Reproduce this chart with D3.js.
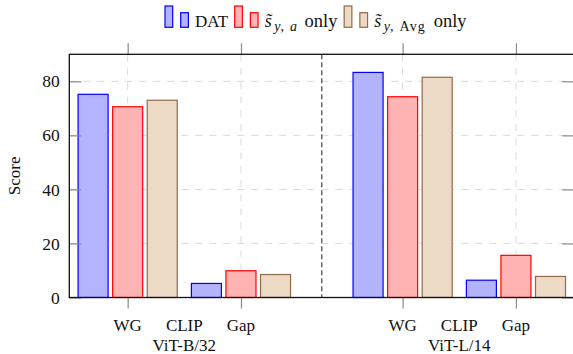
<!DOCTYPE html>
<html>
<head>
<meta charset="utf-8">
<script src="https://cdn.jsdelivr.net/npm/d3@7"></script>
<style>
  body { margin: 0; background: #fff; }
  svg text { font-family: "Liberation Serif", "Times New Roman", Times, serif !important; }
</style>
</head>
<body>
<div id="chart"></div>
<script>
// data
var panels = ["ViT-B/32", "ViT-L/14"];
var tickLabels = ["WG", "CLIP", "Gap"];
var barSlots = ["WG", "Gap"];            // bar groups in each panel
var datScores = [75.2, 5.2, 83.3, 6.4];   // DAT
var saScores = [70.6, 9.9, 74.3, 15.6];   // s~_{y,a} only
var savgScores = [73.0, 8.5, 81.5, 7.8];  // s~_{y,Avg} only
var yTicks = [0, 20, 40, 60, 80];

var series = [
    {name: "DAT", values: datScores, fill: "#b3b3ff", stroke: "#0000ff"},
    {name: "sa", values: saScores, fill: "#ffb3b3", stroke: "#ff0000"},
    {name: "savg", values: savgScores, fill: "#ecd9c6", stroke: "#8f6b48"}
];

var W = 573, H = 354;
var serif = "'Liberation Serif', 'Times New Roman', serif";
var margin = {top: 54.3, left: 69.3},
    width = 505, height = 243.2;

var panelStep = 4.853;   // distance between panels in slot units
var pad = 1.03;
var slotOf = function(label) { return tickLabels.indexOf(label); };
var pos = function(panel, slot) { return panel * panelStep + slot; };

var x = d3.scaleLinear()
    .domain([-pad, pos(panels.length - 1, tickLabels.length - 1) + pad])
    .range([0, width]);
var y = d3.scaleLinear().domain([0, 90]).range([height, 0]);

var svg = d3.select("#chart").append("svg")
    .attr("width", W).attr("height", H)
    .style("font-family", serif)
  .append("g")
    .attr("transform", "translate(" + margin.left + "," + margin.top + ")");

// tick positions that carry marks / grid lines
var markTicks = [];
panels.forEach(function(p, i) {
    barSlots.forEach(function(b) { markTicks.push(pos(i, slotOf(b))); });
});
var labelTicks = [];
panels.forEach(function(p, i) {
    tickLabels.forEach(function(t, j) { labelTicks.push({v: pos(i, j), t: t}); });
});

// grid
svg.append("g").selectAll("line")
    .data(yTicks.filter(function(d) { return d > 0; }))
    .join("line")
    .attr("x1", 0).attr("x2", width)
    .attr("y1", function(d) { return y(d); }).attr("y2", function(d) { return y(d); })
    .attr("stroke", "#dadada").attr("stroke-width", 1)
    .attr("stroke-dasharray", "7,7");
svg.append("g").selectAll("line")
    .data(markTicks)
    .join("line")
    .attr("x1", function(d) { return x(d); }).attr("x2", function(d) { return x(d); })
    .attr("y1", 0).attr("y2", height)
    .attr("stroke", "#dadada").attr("stroke-width", 1)
    .attr("stroke-dasharray", "7,7");

// panel separator
var sepX = x((pos(0, 2) + pos(1, 0)) / 2);
svg.append("line")
    .attr("x1", sepX).attr("x2", sepX)
    .attr("y1", 0).attr("y2", height)
    .attr("stroke", "#444").attr("stroke-width", 1.2)
    .attr("stroke-dasharray", "5,3");

// bars
var barW = 0.53, barStep = 0.61;
series.forEach(function(s, k) {
    svg.append("g").selectAll("rect")
        .data(s.values)
        .join("rect")
        .attr("x", function(d, i) {
            var c = pos(Math.floor(i / 2), slotOf(barSlots[i % 2])) + (k - 1) * barStep;
            return x(c - barW / 2);
        })
        .attr("width", x(barW) - x(0))
        .attr("y", function(d) { return y(d); })
        .attr("height", function(d) { return y(0) - y(d); })
        .attr("fill", s.fill)
        .attr("stroke", s.stroke)
        .attr("stroke-width", 1.2);
});

// axes
var tickColor = "#8a8a8a";
function styleAxis(g) {
    g.attr("font-family", serif).attr("font-size", 17.5);
    g.select(".domain").remove();
    g.selectAll(".tick line").attr("stroke", tickColor).attr("stroke-width", 1.2);
    g.selectAll("text").attr("fill", "#111");
}
svg.append("g")
    .call(d3.axisLeft(y).tickValues(yTicks).tickSize(-12).tickPadding(9.5))
    .call(styleAxis);
svg.append("g")
    .attr("transform", "translate(" + width + ",0)")
    .call(d3.axisRight(y).tickValues(yTicks).tickSize(-12).tickFormat(""))
    .call(styleAxis);
svg.append("g")
    .attr("transform", "translate(0," + height + ")")
    .call(d3.axisBottom(x).tickValues(markTicks).tickSize(11).tickFormat(""))
    .call(styleAxis);
svg.append("g")
    .call(d3.axisTop(x).tickValues(markTicks).tickSize(11).tickFormat(""))
    .call(styleAxis);

// tick labels and panel labels
svg.append("g").selectAll("text")
    .data(labelTicks)
    .join("text")
    .attr("x", function(d) { return x(d.v); })
    .attr("y", height + 33.5)
    .attr("text-anchor", "middle")
    .attr("font-size", 17)
    .attr("fill", "#111")
    .text(function(d) { return d.t; });
svg.append("g").selectAll("text")
    .data(panels)
    .join("text")
    .attr("x", function(d, i) { return x(pos(i, 1)); })
    .attr("y", height + 53.5)
    .attr("text-anchor", "middle")
    .attr("font-size", 17)
    .attr("fill", "#111")
    .text(function(d) { return d; });

// frame
svg.append("rect")
    .attr("x", 0).attr("y", 0).attr("width", width).attr("height", height)
    .attr("fill", "none").attr("stroke", "#111").attr("stroke-width", 1.3);

// y label
svg.append("text")
    .attr("transform", "rotate(-90)")
    .attr("x", -height / 2).attr("y", -margin.left + 20)
    .attr("text-anchor", "middle")
    .attr("font-size", 17)
    .attr("fill", "#111")
    .text("Score");

// legend
var legend = d3.select("svg").append("g");
var lx = 165;
series.forEach(function(s) {
    legend.append("rect").attr("x", lx).attr("y", 6).attr("width", 7.7).attr("height", 21.3)
        .attr("fill", s.fill).attr("stroke", s.stroke).attr("stroke-width", 1.2);
    legend.append("rect").attr("x", lx + 15.7).attr("y", 12.7).attr("width", 7.7).attr("height", 14.6)
        .attr("fill", s.fill).attr("stroke", s.stroke).attr("stroke-width", 1.2);
    var t = legend.append("text").attr("x", lx + 30).attr("y", 26.7)
        .attr("font-size", 17).attr("fill", "#111");
    if (s.name === "DAT") {
        t.text("DAT");
    } else {
        t.append("tspan").style("font-style", "italic").attr("font-size", 18).text("s\u0303");
        t.append("tspan").attr("dy", 4).attr("dx", 2.5).attr("font-size", 14)
            .style("font-style", "italic").text("y");
        t.append("tspan").attr("font-size", 14).text(",");
        if (s.name === "sa") {
            t.append("tspan").attr("dx", 6).attr("font-size", 14)
                .style("font-style", "italic").text("a");
        } else {
            t.append("tspan").attr("dx", 6).attr("font-size", 14)
                .style("letter-spacing", "1.2px").text("Avg");
        }
        t.append("tspan").attr("dy", -4).attr("dx", 3).attr("font-size", 18.5).text(" only");
    }
    lx = t.node().getBBox().x + t.node().getBBox().width + 6;
});
</script>
</body>
</html>
